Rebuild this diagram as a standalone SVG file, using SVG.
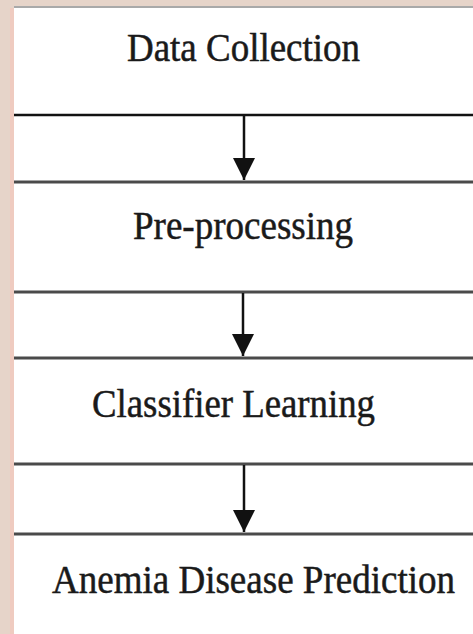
<svg xmlns="http://www.w3.org/2000/svg" width="473" height="634" viewBox="0 0 473 634">
  <style>
    .label { font-family: 'Liberation Serif', 'Times New Roman', serif; font-size: 39px; fill: #1a1a1a; stroke: #1a1a1a; stroke-width: 0.5; }
    .rule { stroke: #4a4a4a; stroke-width: 3; }
    .rule-top { stroke: #111; stroke-width: 2.5; }
    .shaft { stroke: #111; stroke-width: 2.5; fill: none; }
  </style>
  <defs>
    <marker id="head" viewBox="0 0 22 22" refX="22" refY="11" markerWidth="22" markerHeight="22" markerUnits="userSpaceOnUse" orient="auto">
      <path d="M0,0 L22,11 L0,22 Z" fill="#111"/>
    </marker>
  </defs>

  <!-- page background and margin -->
  <rect x="0" y="0" width="473" height="634" fill="#e6d4c9"/>
  <rect x="10" y="8" width="4" height="626" fill="#efcbc0"/>
  <rect x="14" y="8" width="459" height="626" fill="#ffffff"/>
  <rect x="14" y="6" width="459" height="2" fill="#a9a9a9"/>

  <!-- stage nodes -->
  <g id="data-collection">
    <text class="label" x="127" y="61" textLength="233" lengthAdjust="spacingAndGlyphs">Data Collection</text>
  </g>
  <g id="pre-processing">
    <text class="label" x="133" y="239" textLength="220" lengthAdjust="spacingAndGlyphs">Pre-processing</text>
  </g>
  <g id="classifier-learning">
    <text class="label" x="92" y="417" textLength="283" lengthAdjust="spacingAndGlyphs">Classifier Learning</text>
  </g>
  <g id="anemia-prediction">
    <text class="label" x="52" y="593" textLength="403" lengthAdjust="spacingAndGlyphs">Anemia Disease Prediction</text>
  </g>

  <!-- separators and arrows between stages -->
  <g id="connectors">
    <line class="rule-top" x1="14" y1="115" x2="473" y2="115"/>
    <line class="rule" x1="14" y1="182" x2="473" y2="182"/>
    <line class="rule" x1="14" y1="292" x2="473" y2="292"/>
    <line class="rule" x1="14" y1="358" x2="473" y2="358"/>
    <line class="rule" x1="14" y1="464" x2="473" y2="464"/>
    <line class="rule" x1="14" y1="534" x2="473" y2="534"/>

    <line class="shaft" x1="244" y1="116" x2="244" y2="180" marker-end="url(#head)"/>
    <line class="shaft" x1="243" y1="293" x2="243" y2="356" marker-end="url(#head)"/>
    <line class="shaft" x1="244" y1="465" x2="244" y2="532" marker-end="url(#head)"/>
  </g>
</svg>
